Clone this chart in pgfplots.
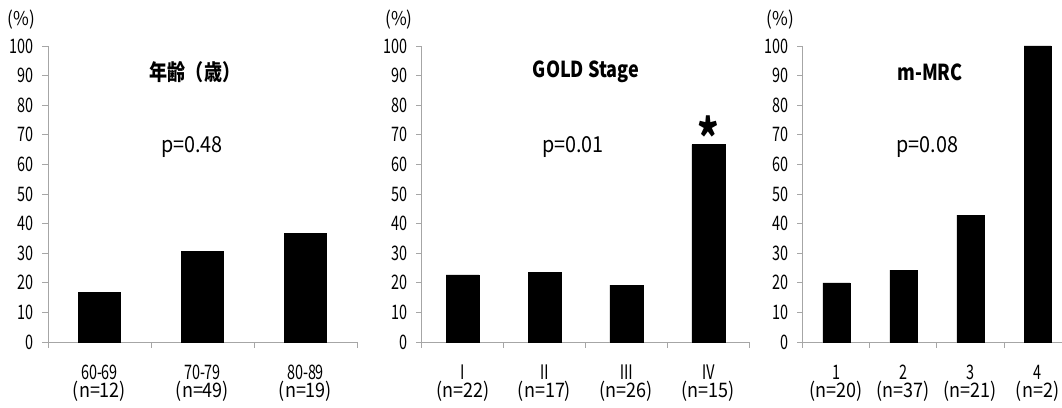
\documentclass[border=0pt]{standalone}
\usepackage{fontspec}
\setmainfont{Noto Sans CJK JP}[FakeStretch=0.82]
\newfontfamily\narrowf{Noto Sans CJK JP}[FakeStretch=0.72]
\newfontfamily\widef{Noto Sans CJK JP}[FakeStretch=0.9]
\usepackage{pgfplots}
\pgfplotsset{compat=1.18}
\definecolor{axisgray}{HTML}{A6A6A6}
\newcommand{\xl}[2]{{\narrowf #1}\\{\widef #2}}
\pgfplotsset{
  panel/.style={
    scale only axis,
    axis x line*=bottom, axis y line*=left,
    axis line style={draw=axisgray, line width=0.9pt, -},
    ymin=0, ymax=100, ytick={0,10,...,100}, minor ytick={0,10,...,100},
    major tick length=0pt, minor tick length=5.5pt, tick align=outside,
    tick style={draw=axisgray, line width=0.9pt},
    /pgf/number format/assume math mode=true,
    yticklabel style={font=\narrowf\fontsize{20}{20}\selectfont, anchor=east, inner sep=0pt, xshift=-14pt},
    xticklabel style={font=\fontsize{20}{18}\selectfont, align=center, anchor=north, inner sep=0pt, yshift=-23pt},
    ybar, height=296pt, anchor=south west, clip=false,
  },
  blackbar/.style={fill=black, draw=black},
}
\begin{document}
\begin{tikzpicture}
\path[use as bounding box] (0,0) rectangle (1062pt,407pt);
% Panel 1
\begin{axis}[panel, at={(48pt,65pt)}, width=309pt, bar width=42pt,
  xmin=0.5, xmax=3.5, xtick={1,2,3}, minor xtick={0.5,1.5,2.5,3.5},
  xticklabels={{\xl{60-69}{(n=12)}},{\xl{70-79}{(n=49)}},{\xl{80-89}{(n=19)}}}]
\addplot[blackbar] coordinates {(1,16.7) (2,30.6) (3,36.8)};
\end{axis}
% Panel 2
\begin{axis}[panel, at={(421.7pt,65pt)}, width=327.5pt, bar width=33pt,
  xmin=0.5, xmax=4.5, xtick={1,2,3,4}, minor xtick={0.5,1.5,2.5,3.5,4.5},
  xticklabels={{\xl{Ⅰ}{(n=22)}},{\xl{Ⅱ}{(n=17)}},{\xl{Ⅲ}{(n=26)}},{\xl{Ⅳ}{(n=15)}}}]
\addplot[blackbar] coordinates {(1,22.7) (2,23.5) (3,19.2) (4,66.7)};
\node[font=\fontsize{50}{50}\selectfont\bfseries, anchor=south, inner sep=0pt] at (axis cs:4,62.5) {*};
\end{axis}
% Panel 3
\begin{axis}[panel, at={(802.7pt,65pt)}, width=268.4pt, bar width=27pt,
  xmin=0.5, xmax=4.5, xtick={1,2,3,4}, minor xtick={0.5,1.5,2.5,3.5,4.5},
  xticklabels={{\xl{1}{(n=20)}},{\xl{2}{(n=37)}},{\xl{3}{(n=21)}},{\xl{4}{(n=2)}}}]
\addplot[blackbar] coordinates {(1,20.0) (2,24.3) (3,42.9) (4,100)};
\end{axis}
% annotations
\node[font=\widef\fontsize{19}{19}\selectfont] at (21.5pt,387pt) {(\%)};
\node[font=\widef\fontsize{19}{19}\selectfont] at (399pt,387pt) {(\%)};
\node[font=\widef\fontsize{19}{19}\selectfont] at (780.5pt,387pt) {(\%)};
\node[font=\fontsize{22}{22}\selectfont\bfseries] at (195pt,335pt) {年齢（歳）};
\node[font=\fontsize{22}{22}\selectfont\bfseries] at (586pt,335pt) {GOLD Stage};
\node[font=\fontsize{22}{22}\selectfont\bfseries] at (930pt,335pt) {m-MRC};
\node[font=\widef\fontsize{22}{22}\selectfont] at (192pt,260pt) {p=0.48};
\node[font=\widef\fontsize{22}{22}\selectfont] at (573pt,260pt) {p=0.01};
\node[font=\widef\fontsize{22}{22}\selectfont] at (927.5pt,260pt) {p=0.08};
\end{tikzpicture}
\end{document}
